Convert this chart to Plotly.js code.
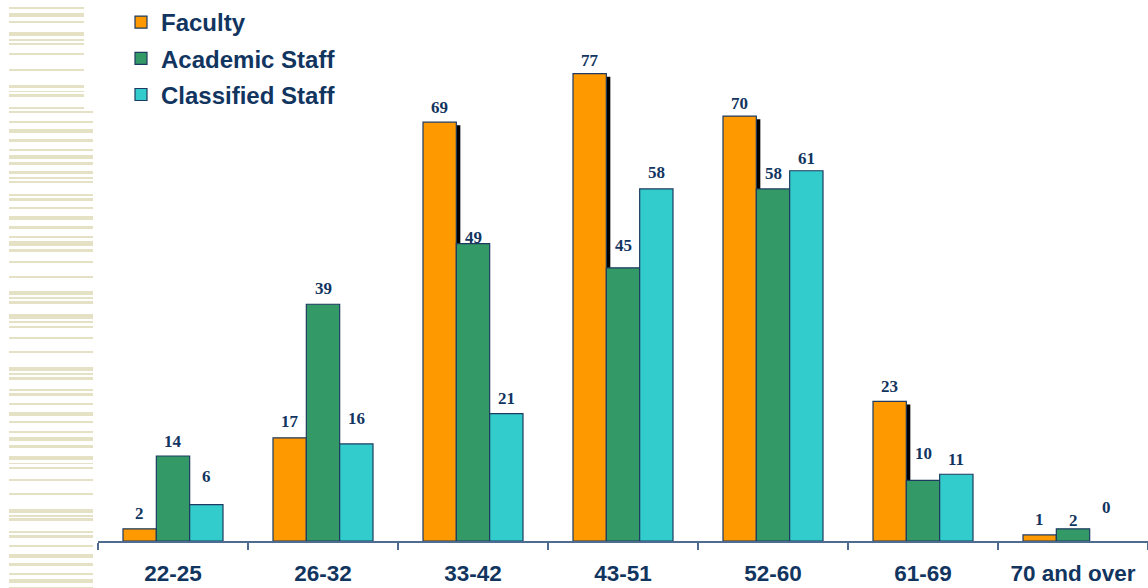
<!DOCTYPE html>
<html>
<head>
<meta charset="utf-8">
<script src="https://cdn.plot.ly/plotly-3.0.1.min.js"></script>
<style>
  html, body { margin: 0; padding: 0; background: #ffffff; }
  #chart { width: 1148px; height: 588px; }
</style>
</head>
<body>
<div id="chart"></div>
<script>
// ---- data ----
const categories = ['22-25', '26-32', '33-42', '43-51', '52-60', '61-69', '70 and over'];
const seriesNames = ['Faculty', 'Academic Staff', 'Classified Staff'];
const faculty    = [2, 17, 69, 77, 70, 23, 1];
const academic   = [14, 39, 49, 45, 58, 10, 2];
const classified = [6, 16, 21, 58, 61, 11, 0];

// ---- label placement (pixels above bar top, label centre) ----
const liftFaculty    = [15, 16, 15, 13, 13, 15, 15];
const liftAcademic   = [15, 16, 6, 22, 15, 27, 8];
const liftClassified = [28, 25, 15, 16, 12, 15, 34];

// ---- styling ----
const W = 1148, H = 588;
const M = { l: 98, r: 0, t: 10, b: 47 };
const plotW = W - M.l - M.r, plotH = H - M.t - M.b;
const pxPerUnit = 6.07;
const yMax = plotH / pxPerUnit;
const catPx = plotW / categories.length;
const barW = 1 / 4.5;
const colors = ['#FF9900', '#339966', '#33CCCC'];
const outline = '#1d3b60';
const navy = '#12355f';

// decorative stripes on the left: [top px, bottom px, right px]
const stripes = [
  [7,9,84],[13,17,84],[21,23,84],[32,36,84],[39,41,84],[43,45,84],[53,55,84],[69,71,84],
  [85,88,84],[91,92,84],[94,97,84],[107,109,84],
  [111,113,93],[121,123,93],[129,133,93],[139,142,93],[149,151,93],[155,159,93],[162,165,93],
  [171,174,93],[177,179,93],[181,183,93],[194,196,93],[198,201,93],[207,209,93],[216,220,93],
  [226,229,93],[236,238,93],[241,246,93],[249,252,93],[261,263,93],[276,278,93],[291,295,93],
  [297,299,93],[301,304,93],[314,319,93],[321,323,93],[326,328,93],[337,339,93],[351,353,93],
  [367,371,93],[373,375,93],[377,380,93],[389,391,93],[393,396,93],[403,405,93],[412,416,93],
  [421,423,93],[431,433,93],[437,441,93],[445,448,93],[456,460,93],[463,464,93],[467,469,93],
  [479,481,93],[493,495,93],[509,513,93],[515,517,93],[518,521,93],[531,533,93],[535,538,93],
  [545,547,93],[554,558,93],[563,566,93],[573,575,93],[579,583,93],[587,588,93]
];
const px2x = px => (px - M.l) / plotW;
const px2y = py => (H - M.b - py) / plotH;

const shapes = stripes.map(s => ({
  type: 'rect', xref: 'paper', yref: 'paper', layer: 'below',
  x0: px2x(9), x1: px2x(s[2]), y0: px2y(s[1]), y1: px2y(s[0]),
  line: { width: 0 }, fillcolor: '#e4e1c5'
}));

const values = [faculty, academic, classified];
const lifts = [liftFaculty, liftAcademic, liftClassified];
const offsets = [-1.5 * barW, -0.5 * barW, 0.5 * barW];

const traces = [];
// shadow of faculty bars
traces.push({
  type: 'bar', x: categories, y: faculty, base: -0.5,
  offset: offsets[0] + 4 / catPx, width: barW,
  marker: { color: '#000000', line: { width: 0 } },
  showlegend: false, hoverinfo: 'skip', cliponaxis: false
});
values.forEach((vals, i) => {
  traces.push({
    type: 'bar', name: seriesNames[i], x: categories, y: vals,
    offset: offsets[i], width: barW, legendgroup: 'g' + i,
    marker: { color: colors[i], line: { color: outline, width: vals.map(v => v > 0 ? 1.2 : 0) } },
    cliponaxis: false
  });
});

const annotations = [];
values.forEach((vals, i) => {
  vals.forEach((v, j) => {
    annotations.push({
      x: categories[j], y: v, xref: 'x', yref: 'y',
      text: String(v), showarrow: false,
      xanchor: 'center', yanchor: 'middle',
      xshift: (offsets[i] + barW / 2) * catPx,
      yshift: lifts[i][j],
      font: { family: 'Liberation Serif, Times New Roman, serif', size: 17, color: navy, weight: 'bold' }
    });
  });
});

const layout = {
  width: W, height: H,
  margin: M,
  paper_bgcolor: '#ffffff', plot_bgcolor: '#ffffff',
  barmode: 'overlay',
  showlegend: true,
  legend: {
    x: px2x(121), y: 1.019, xanchor: 'left', yanchor: 'top',
    bgcolor: 'rgba(0,0,0,0)', tracegroupgap: 2,
    font: { family: 'Liberation Sans, Arial, sans-serif', size: 24, color: navy, weight: 'bold' },
    traceorder: 'grouped'
  },
  xaxis: {
    type: 'category', categoryorder: 'array', categoryarray: categories,
    range: [-0.5, categories.length - 0.5],
    showline: true, linecolor: '#4f6b8f', linewidth: 1.5,
    ticks: 'outside', tickson: 'boundaries', ticklen: 7, tickwidth: 1.5, tickcolor: '#4f6b8f',
    ticklabelstandoff: 11,
    showgrid: false, zeroline: false,
    tickfont: { family: 'Liberation Sans, Arial, sans-serif', size: 22.5, color: navy, weight: 'bold' }
  },
  yaxis: {
    range: [0, yMax], visible: false, showgrid: false, zeroline: false, fixedrange: true
  },
  shapes: shapes,
  annotations: annotations
};

Plotly.newPlot('chart', traces, layout, { displayModeBar: false, staticPlot: true });
</script>
</body>
</html>
